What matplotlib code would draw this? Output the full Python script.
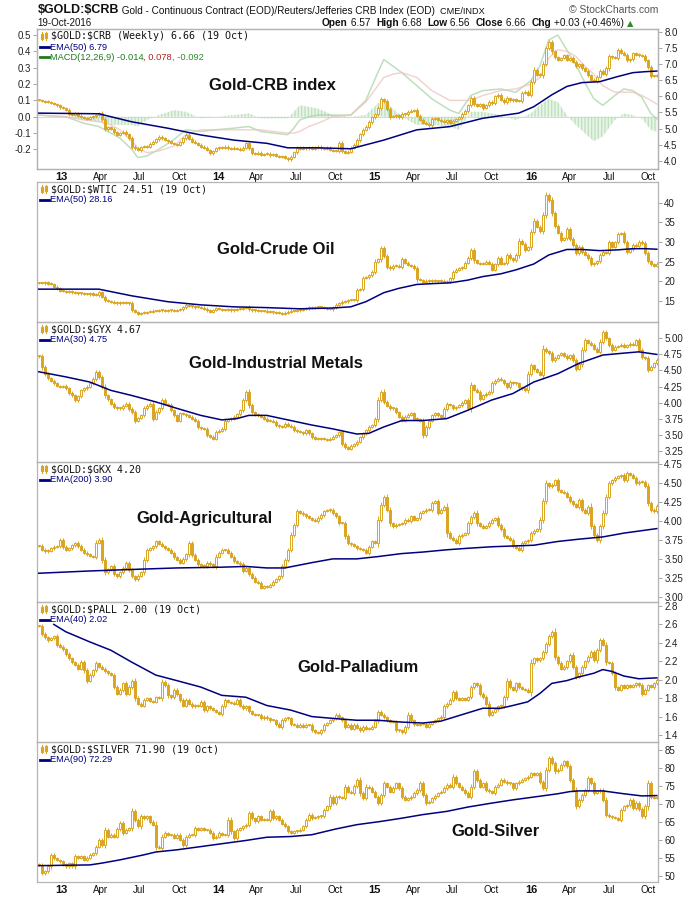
import numpy as np
import matplotlib
matplotlib.use('Agg')
import matplotlib.pyplot as plt
from matplotlib.patches import Rectangle
from matplotlib.lines import Line2D

# weekly closes, first week = 5-Nov-2012, last = 17-Oct-2016
crb_close = [
    5.89, 5.86, 5.84, 5.82, 5.79, 5.76, 5.72, 5.66, 5.64, 5.58,
    5.45, 5.43, 5.47, 5.40, 5.36, 5.33, 5.31, 5.35, 5.38, 5.42,
    5.48, 5.30, 4.98, 5.05, 5.00, 4.88, 4.80, 4.86, 4.90, 4.82,
    4.70, 4.44, 4.38, 4.33, 4.42, 4.45, 4.43, 4.52, 4.59, 4.66,
    4.75, 4.70, 4.64, 4.60, 4.55, 4.52, 4.50, 4.58, 4.70, 4.80,
    4.68, 4.59, 4.55, 4.50, 4.44, 4.40, 4.33, 4.23, 4.30, 4.38,
    4.42, 4.40, 4.44, 4.38, 4.36, 4.40, 4.37, 4.33, 4.40, 4.54,
    4.38, 4.23, 4.22, 4.25, 4.18, 4.20, 4.22, 4.17, 4.20, 4.15,
    4.12, 4.14, 4.08, 4.04, 4.12, 4.26, 4.40, 4.36, 4.40, 4.38,
    4.42, 4.36, 4.40, 4.44, 4.38, 4.36, 4.40, 4.33, 4.30, 4.30,
    4.56, 4.30, 4.25, 4.28, 4.40, 4.50, 4.64, 4.82, 4.97, 5.05,
    5.20, 5.35, 5.45, 5.65, 5.92, 5.85, 5.62, 5.37, 5.38, 5.42,
    5.35, 5.46, 5.44, 5.52, 5.56, 5.58, 5.40, 5.28, 5.18, 5.15,
    5.10, 5.30, 5.32, 5.28, 5.25, 5.20, 5.26, 5.18, 5.24, 5.30,
    5.35, 5.46, 5.55, 5.72, 5.96, 5.76, 5.70, 5.76, 5.64, 5.72,
    5.84, 5.78, 6.00, 6.05, 5.90, 5.82, 5.95, 5.88, 5.92, 5.86,
    5.85, 6.12, 6.15, 6.05, 6.46, 6.83, 6.68, 6.66, 7.02, 7.50,
    7.70, 7.40, 7.22, 7.15, 7.20, 7.28, 7.15, 7.20, 7.08, 6.94,
    7.00, 6.88, 6.80, 6.66, 6.52, 6.48, 6.62, 6.80, 6.70, 6.88,
    7.25, 7.22, 7.20, 7.45, 7.36, 7.30, 7.12, 7.16, 7.34, 7.30,
    7.28, 7.26, 7.12, 6.92, 6.64, 6.63, 6.66]
crb_ema_wk = [0, 20, 31, 43, 54, 65, 76, 83, 93, 104, 115, 126, 137, 148,
              160, 165, 171, 176, 181, 187, 193, 198, 202, 206]
crb_ema = [5.48, 5.46, 5.21, 5.01, 4.80, 4.64, 4.54, 4.40, 4.40, 4.37, 4.64,
           4.96, 5.06, 5.32, 5.48, 5.68, 6.05, 6.31, 6.43, 6.46, 6.62, 6.74,
           6.77, 6.79]

macd_wk = [0, 9, 15, 20, 24, 27, 31, 33, 36, 40, 45, 49, 54, 59, 65, 70, 74,
           78, 83, 85, 87, 90, 93, 98, 104, 109, 113, 115, 118, 121, 126, 131,
           137, 140, 144, 148, 154, 159, 164, 167, 170, 173, 176, 179, 182,
           185, 188, 192, 195, 198, 201, 204, 206]
macd_line = [0.01, 0.00, -0.04, -0.06, -0.10, -0.13, -0.20, -0.25, -0.24,
             -0.20, -0.14, -0.08, -0.09, -0.08, -0.07, -0.06, -0.09, -0.10,
             -0.11, -0.07, -0.02, 0.00, 0.01, 0.01, 0.01, 0.10, 0.27, 0.35,
             0.31, 0.27, 0.19, 0.11, 0.04, 0.02, 0.13, 0.16, 0.17, 0.15, 0.22,
             0.31, 0.47, 0.50, 0.41, 0.32, 0.21, 0.11, 0.07, 0.13, 0.17, 0.16,
             0.12, 0.02, -0.014]
macd_signal = [0.01, 0.00, -0.02, -0.03, -0.05, -0.08, -0.15, -0.19, -0.22,
               -0.21, -0.18, -0.11, -0.08, -0.08, -0.08, -0.08, -0.08, -0.09,
               -0.10, -0.10, -0.09, -0.06, -0.04, 0.00, 0.01, 0.09, 0.19,
               0.24, 0.26, 0.27, 0.24, 0.16, 0.10, 0.10, 0.10, 0.13, 0.16,
               0.17, 0.20, 0.24, 0.36, 0.41, 0.40, 0.37, 0.31, 0.26, 0.19,
               0.15, 0.15, 0.15, 0.13, 0.10, 0.078]

wtic_close = [
    19.6, 19.5, 19.7, 19.4, 19.3, 18.6, 18.2, 17.6, 17.5, 17.3,
    17.4, 17.2, 17.0, 16.9, 17.0, 16.8, 16.7, 16.9, 16.6, 16.5,
    17.2, 16.1, 15.2, 15.0, 14.8, 14.6, 14.4, 14.7, 14.6, 14.5,
    14.4, 12.7, 12.2, 11.7, 11.9, 12.0, 12.2, 12.3, 12.5, 12.4,
    12.7, 12.6, 12.5, 12.6, 12.7, 12.5, 12.7, 12.9, 13.4, 14.0,
    13.8, 13.6, 13.4, 13.5, 13.3, 13.0, 12.6, 12.3, 12.7, 13.1,
    12.9, 12.7, 12.7, 12.8, 12.6, 12.7, 12.9, 13.0, 13.2, 13.5,
    12.9, 12.6, 12.7, 12.5, 12.4, 12.5, 12.3, 12.2, 12.1, 12.0,
    11.9, 11.7, 12.0, 12.3, 12.5, 12.4, 12.6, 12.7, 12.9, 13.1,
    13.3, 13.2, 13.4, 13.5, 13.4, 13.2, 13.0, 12.9, 13.4, 14.0,
    14.4, 14.8, 14.9, 15.2, 15.2, 15.3, 17.8, 18.0, 20.8, 21.0,
    21.6, 22.4, 25.0, 25.6, 28.4, 26.4, 23.7, 23.3, 24.0, 24.0,
    23.7, 25.6, 24.7, 24.2, 24.0, 23.3, 20.5, 20.3, 19.9, 20.2,
    20.0, 20.3, 20.1, 20.0, 20.2, 19.8, 20.0, 20.8, 22.4, 23.0,
    23.3, 23.5, 24.7, 25.9, 28.0, 25.3, 24.7, 24.5, 24.5, 25.0,
    24.5, 23.0, 24.3, 25.9, 24.5, 24.7, 26.7, 25.9, 25.3, 26.7,
    30.3, 29.5, 28.0, 28.7, 32.6, 35.4, 33.9, 32.8, 36.9, 42.0,
    40.7, 37.3, 34.1, 32.4, 30.5, 31.0, 33.2, 30.7, 29.2, 27.1,
    28.8, 27.5, 26.7, 25.9, 24.3, 24.6, 25.1, 26.7, 27.5, 27.3,
    29.9, 28.8, 29.9, 32.0, 32.3, 30.0, 27.5, 28.2, 29.3, 29.1,
    30.1, 29.7, 27.3, 25.1, 24.3, 23.9, 24.5]
wtic_ema_wk = [0, 20, 31, 43, 54, 65, 76, 87, 98, 104, 109, 115, 120, 126,
               131, 137, 143, 148, 154, 159, 165, 170, 176, 181, 187, 193,
               198, 202, 206]
wtic_ema = [18.0, 18.0, 16.3, 14.8, 14.0, 13.5, 13.3, 13.0, 13.2, 13.5, 14.8,
            17.1, 18.2, 19.2, 19.4, 19.6, 20.3, 21.2, 21.9, 22.9, 24.4, 26.7,
            28.1, 28.1, 27.8, 28.0, 28.3, 28.3, 28.16]

gyx_close = [
    4.72, 4.55, 4.45, 4.38, 4.34, 4.30, 4.26, 4.24, 4.26, 4.22,
    4.15, 4.11, 4.04, 4.10, 4.19, 4.22, 4.25, 4.30, 4.37, 4.48,
    4.40, 4.25, 4.11, 4.05, 3.98, 3.93, 3.91, 3.91, 3.95, 3.98,
    3.90, 3.85, 3.72, 3.76, 3.80, 3.91, 3.95, 3.98, 3.75, 3.85,
    3.91, 4.04, 3.98, 3.96, 3.88, 3.80, 3.72, 3.83, 3.82, 3.80,
    3.78, 3.75, 3.72, 3.62, 3.60, 3.59, 3.49, 3.47, 3.44, 3.54,
    3.56, 3.59, 3.72, 3.74, 3.75, 3.78, 3.82, 3.88, 4.04, 4.17,
    3.96, 3.85, 3.82, 3.80, 3.78, 3.75, 3.72, 3.72, 3.70, 3.65,
    3.63, 3.62, 3.67, 3.64, 3.62, 3.57, 3.55, 3.54, 3.52, 3.57,
    3.52, 3.46, 3.44, 3.45, 3.44, 3.43, 3.42, 3.44, 3.47, 3.49,
    3.54, 3.36, 3.30, 3.28, 3.33, 3.35, 3.39, 3.46, 3.52, 3.57,
    3.62, 3.65, 3.75, 4.04, 4.17, 4.01, 3.95, 3.91, 3.91, 3.85,
    3.78, 3.72, 3.78, 3.81, 3.83, 3.75, 3.74, 3.72, 3.49, 3.62,
    3.72, 3.80, 3.83, 3.80, 3.78, 3.90, 3.98, 3.96, 3.91, 3.93,
    3.96, 4.00, 4.04, 3.91, 4.27, 4.20, 4.17, 4.06, 4.11, 4.14,
    4.17, 4.30, 4.34, 4.37, 4.35, 4.30, 4.24, 4.32, 4.30, 4.30,
    4.24, 4.22, 4.19, 4.45, 4.58, 4.52, 4.48, 4.43, 4.84, 4.80,
    4.77, 4.66, 4.70, 4.74, 4.77, 4.73, 4.69, 4.74, 4.66, 4.53,
    4.60, 4.82, 4.97, 4.93, 4.90, 4.84, 4.79, 4.95, 5.10, 5.00,
    4.90, 4.82, 4.87, 4.88, 4.90, 4.87, 4.89, 4.92, 4.90, 4.97,
    4.82, 4.71, 4.69, 4.51, 4.56, 4.61, 4.67]
gyx_ema_wk = [0, 9, 17, 24, 31, 39, 46, 54, 61, 66, 70, 76, 84, 91, 98, 106,
              110, 115, 121, 128, 136, 143, 151, 158, 165, 173, 180, 188, 195,
              200, 206]
gyx_ema = [4.48, 4.40, 4.32, 4.19, 4.11, 4.01, 3.91, 3.80, 3.73, 3.75, 3.80,
           3.80, 3.72, 3.65, 3.59, 3.51, 3.52, 3.62, 3.72, 3.72, 3.75, 3.88,
           4.04, 4.14, 4.32, 4.45, 4.61, 4.74, 4.77, 4.79, 4.75]

gkx_close = [
    3.67, 3.62, 3.60, 3.61, 3.64, 3.66, 3.67, 3.75, 3.66, 3.62,
    3.64, 3.68, 3.71, 3.67, 3.62, 3.58, 3.56, 3.54, 3.53, 3.71,
    3.75, 3.49, 3.32, 3.36, 3.40, 3.30, 3.27, 3.32, 3.38, 3.45,
    3.35, 3.27, 3.23, 3.28, 3.32, 3.49, 3.62, 3.64, 3.67, 3.73,
    3.70, 3.67, 3.64, 3.62, 3.58, 3.52, 3.49, 3.45, 3.50, 3.56,
    3.71, 3.55, 3.49, 3.43, 3.41, 3.40, 3.45, 3.43, 3.40, 3.53,
    3.58, 3.62, 3.62, 3.58, 3.53, 3.47, 3.45, 3.43, 3.34, 3.38,
    3.30, 3.25, 3.20, 3.18, 3.12, 3.14, 3.13, 3.16, 3.20, 3.23,
    3.27, 3.40, 3.49, 3.62, 3.82, 3.95, 4.13, 4.11, 4.09, 4.06,
    4.04, 4.02, 4.00, 4.04, 4.08, 4.13, 4.14, 4.15, 4.10, 4.06,
    3.97, 3.97, 3.80, 3.71, 3.69, 3.67, 3.64, 3.63, 3.62, 3.58,
    3.66, 3.73, 3.71, 4.02, 4.21, 4.32, 4.15, 3.97, 3.93, 3.95,
    3.96, 3.97, 4.02, 4.00, 4.06, 4.02, 4.04, 4.11, 4.13, 4.15,
    4.15, 4.24, 4.26, 4.11, 4.15, 4.19, 3.84, 3.78, 3.75, 3.71,
    3.80, 3.82, 3.84, 3.97, 4.05, 4.11, 3.97, 3.94, 3.91, 3.93,
    3.98, 4.02, 4.04, 3.95, 3.89, 3.80, 3.78, 3.75, 3.67, 3.65,
    3.62, 3.71, 3.73, 3.75, 3.84, 3.87, 3.89, 4.02, 4.26, 4.50,
    4.46, 4.48, 4.54, 4.41, 4.39, 4.37, 4.32, 4.26, 4.22, 4.19,
    4.28, 4.15, 4.11, 4.19, 3.93, 3.82, 3.75, 3.93, 4.11, 4.32,
    4.50, 4.54, 4.57, 4.59, 4.61, 4.54, 4.63, 4.61, 4.57, 4.50,
    4.52, 4.52, 4.46, 4.24, 4.15, 4.13, 4.20]
gkx_ema_wk = [0, 17, 31, 46, 61, 69, 76, 82, 91, 98, 106, 113, 121, 128, 136,
              143, 151, 158, 165, 173, 180, 188, 195, 206]
gkx_ema = [3.31, 3.34, 3.36, 3.38, 3.39, 3.40, 3.38, 3.38, 3.45, 3.50, 3.50,
           3.53, 3.57, 3.59, 3.62, 3.64, 3.66, 3.67, 3.68, 3.73, 3.76, 3.79,
           3.84, 3.90]

pall_close = [
    2.58, 2.50, 2.46, 2.43, 2.45, 2.47, 2.38, 2.36, 2.33, 2.28,
    2.23, 2.19, 2.16, 2.12, 2.19, 2.10, 1.99, 2.05, 2.10, 2.18,
    2.14, 2.12, 2.09, 2.07, 2.05, 1.92, 1.85, 1.89, 1.96, 1.85,
    1.92, 1.99, 1.80, 1.74, 1.72, 1.78, 1.80, 1.77, 1.76, 1.81,
    1.80, 1.98, 1.94, 1.83, 1.81, 1.89, 1.84, 1.78, 1.72, 1.78,
    1.74, 1.71, 1.72, 1.72, 1.76, 1.67, 1.71, 1.69, 1.67, 1.65,
    1.63, 1.71, 1.78, 1.76, 1.75, 1.74, 1.78, 1.72, 1.69, 1.71,
    1.66, 1.63, 1.62, 1.62, 1.58, 1.60, 1.58, 1.56, 1.56, 1.52,
    1.49, 1.56, 1.58, 1.58, 1.52, 1.51, 1.49, 1.51, 1.49, 1.51,
    1.51, 1.45, 1.43, 1.42, 1.45, 1.51, 1.53, 1.56, 1.58, 1.62,
    1.59, 1.56, 1.49, 1.51, 1.47, 1.51, 1.48, 1.45, 1.49, 1.47,
    1.47, 1.49, 1.55, 1.65, 1.62, 1.59, 1.56, 1.54, 1.54, 1.45,
    1.45, 1.43, 1.49, 1.62, 1.56, 1.52, 1.51, 1.52, 1.52, 1.49,
    1.52, 1.54, 1.56, 1.58, 1.60, 1.71, 1.74, 1.78, 1.87, 1.80,
    1.78, 1.80, 1.78, 1.81, 1.92, 1.96, 1.94, 1.85, 1.81, 1.74,
    1.62, 1.65, 1.68, 1.71, 1.72, 1.81, 1.99, 1.92, 1.89, 1.96,
    1.92, 1.90, 1.89, 1.87, 2.18, 2.23, 2.21, 2.23, 2.30, 2.39,
    2.47, 2.52, 2.25, 2.18, 2.12, 2.14, 2.20, 2.27, 2.14, 2.03,
    2.07, 2.14, 2.20, 2.25, 2.30, 2.21, 2.32, 2.43, 2.38, 2.19,
    2.18, 2.07, 1.92, 1.89, 1.94, 1.91, 1.94, 1.92, 1.94, 1.96,
    1.94, 1.85, 1.89, 1.94, 1.92, 1.96, 2.00]
pall_ema_wk = [5, 9, 17, 24, 31, 39, 46, 54, 61, 69, 76, 84, 91, 98, 106, 113,
               121, 128, 134, 139, 143, 148, 154, 158, 163, 167, 171, 176, 180,
               185, 188, 191, 195, 200, 206]
pall_ema = [2.60, 2.52, 2.41, 2.32, 2.19, 2.05, 1.99, 1.92, 1.83, 1.81, 1.72,
            1.67, 1.60, 1.58, 1.56, 1.56, 1.54, 1.53, 1.55, 1.60, 1.64, 1.69,
            1.69, 1.72, 1.76, 1.85, 1.96, 1.99, 2.03, 2.07, 2.11, 2.09, 2.04,
            2.01, 2.02]

silver_close = [
    53.1, 50.7, 51.2, 52.6, 55.8, 54.9, 54.4, 54.0, 53.2, 52.6,
    53.5, 52.6, 55.4, 54.9, 55.4, 54.4, 55.0, 55.8, 56.3, 58.1,
    60.0, 58.6, 62.8, 60.9, 61.4, 60.9, 63.0, 64.6, 61.9, 62.8,
    63.2, 67.9, 65.6, 63.7, 66.5, 66.0, 66.5, 65.0, 64.2, 58.1,
    57.7, 60.9, 61.9, 61.4, 61.4, 60.5, 61.4, 60.0, 58.6, 60.9,
    61.4, 61.4, 63.2, 62.8, 63.2, 62.8, 62.8, 61.9, 60.5, 60.9,
    61.9, 61.4, 61.4, 65.6, 62.3, 60.5, 62.8, 63.2, 63.7, 64.2,
    67.4, 66.0, 65.1, 66.5, 65.6, 65.6, 65.6, 67.9, 66.0, 66.5,
    65.6, 64.5, 63.7, 62.3, 61.9, 62.3, 62.5, 62.8, 63.7, 65.6,
    67.0, 66.0, 66.2, 66.5, 66.5, 68.3, 69.3, 72.0, 70.2, 72.0,
    71.8, 71.6, 74.8, 73.4, 73.0, 75.0, 76.7, 73.0, 71.6, 74.8,
    74.4, 73.4, 72.0, 70.2, 72.5, 75.7, 74.8, 73.4, 74.5, 75.7,
    74.4, 72.0, 71.1, 71.5, 72.0, 73.0, 73.9, 75.7, 72.5, 70.2,
    70.6, 71.6, 72.3, 73.0, 73.4, 74.4, 75.3, 74.8, 77.6, 75.7,
    74.8, 73.9, 73.0, 72.0, 74.8, 79.0, 76.7, 74.8, 75.7, 73.9,
    73.5, 73.0, 74.8, 75.3, 76.7, 76.2, 75.7, 75.7, 74.4, 75.7,
    76.2, 76.7, 77.1, 77.6, 78.5, 78.1, 78.5, 76.2, 74.4, 79.4,
    82.7, 81.3, 79.0, 79.5, 80.8, 81.8, 80.4, 76.7, 73.9, 69.3,
    71.0, 72.5, 73.9, 77.1, 75.7, 73.0, 73.5, 73.9, 71.1, 67.0,
    66.5, 66.2, 66.0, 65.6, 68.3, 69.3, 69.7, 71.1, 68.8, 70.2,
    68.5, 66.5, 69.3, 75.7, 72.0, 71.6, 71.9]
silver_ema_wk = [0, 17, 21, 27, 35, 39, 46, 54, 61, 69, 76, 84, 91, 99, 106,
                 114, 121, 128, 136, 143, 151, 158, 166, 173, 177, 180, 188,
                 195, 201, 206]
silver_ema = [52.8, 53.0, 53.5, 54.4, 55.8, 56.6, 57.2, 58.1, 58.9, 59.8, 60.7,
              60.9, 61.4, 63.0, 64.2, 65.1, 66.0, 67.0, 67.9, 69.1, 70.2, 71.1,
              72.0, 72.8, 73.4, 73.6, 73.6, 72.8, 72.2, 72.3]

GOLD = '#DAA520'
NAVY = '#000080'
EDGE = '#b4b4b4'
W, H = 700, 900
SANS = ['Liberation Sans', 'DejaVu Sans']

fig = plt.figure(figsize=(7, 9), dpi=100)
fig.patch.set_facecolor('white')


def fx(x):
    return x / W


def fy(y):
    return 1 - y / H


def esc(s):
    return s.replace('$', r'\$')


def panel(top, bot):
    return fig.add_axes([fx(37.3), fy(bot), 620.7 / W, (bot - top) / H])


def candles(ax, closes, lim):
    c = np.asarray(closes, float)
    o = np.concatenate([[c[0]], c[:-1]])
    x = np.arange(len(c))
    px = (lim[1] - lim[0]) / 140.0
    lo = np.minimum(o, c)
    hi = np.maximum(o, c)
    body = np.maximum(hi - lo, px)
    tail = 1.2 * px + 0.1 * (hi - lo)
    ax.vlines(x, lo - tail, hi + tail, color=GOLD, lw=0.7, zorder=2)
    up = c >= o
    ax.bar(x[up], body[up], bottom=lo[up], width=0.85, facecolor='white',
           edgecolor=GOLD, lw=0.7, zorder=3)
    ax.bar(x[~up], body[~up], bottom=lo[~up], width=0.85, color=GOLD,
           edgecolor=GOLD, lw=0.7, zorder=3)


def style(ax, lim, ticks, fmt):
    ax.set_xlim(-0.5, 206.4)
    ax.set_ylim(*lim)
    ax.yaxis.tick_right()
    ax.set_yticks(ticks)
    ax.set_yticklabels([fmt % t for t in ticks], fontsize=7, color='#222222',
                       family=SANS)
    ax.tick_params(axis='y', length=3, width=0.6, color='#999999', pad=1.5)
    ax.tick_params(axis='x', length=0, labelbottom=False)
    for s in ax.spines.values():
        s.set_color(EDGE)
        s.set_linewidth(0.9)
    ax.set_facecolor('none')


def legend(top, title, ema_text):
    yc = top + 7
    for k in range(2):
        xi = 41 + 4 * k
        fig.add_artist(Line2D([fx(xi + 1), fx(xi + 1)], [fy(yc + 4), fy(yc - 4)],
                              color=GOLD, lw=0.8))
        fig.add_artist(Rectangle((fx(xi), fy(yc + 2.5 - k)), fx(2), 5 / H,
                                 facecolor=GOLD if k else 'white',
                                 edgecolor=GOLD, lw=0.8))
    fig.text(fx(51), fy(yc), esc(title), family='DejaVu Sans Mono', size=7.2,
             va='center', color='#111111')
    fig.add_artist(Line2D([fx(40), fx(48.5)], [fy(top + 18)] * 2, color=NAVY, lw=2))
    fig.text(fx(49.5), fy(top + 18), ema_text, family=SANS, size=6.7,
             va='center', color=NAVY)


def tag(x, y, s):
    fig.text(fx(x), fy(y), s, ha='center', va='center', weight='bold', size=12,
             family=['Liberation Sans Narrow', 'Liberation Sans'], color='#111111')


# date ticks
t0 = np.datetime64('2012-11-05')
qs = np.arange(np.datetime64('2013-01'), np.datetime64('2016-11'),
               np.timedelta64(3, 'M'))
tick_x = ((qs.astype('datetime64[D]') - t0) / np.timedelta64(1, 'D')) / 7.0 - 0.5
names = {3: 'Apr', 6: 'Jul', 9: 'Oct'}
tick_lbl = []
for q in qs.astype(int):
    m = q % 12
    tick_lbl.append('%02d' % ((q // 12 + 1970) % 100) if m == 0 else names[m])


def dates(ax):
    ax.set_xticks(tick_x)
    ax.set_xticklabels(tick_lbl, fontsize=7, family=SANS, color='#111111')
    ax.tick_params(axis='x', length=0, pad=2.5, labelbottom=True)
    for lb in ax.get_xticklabels():
        if lb.get_text().isdigit():
            lb.set_fontweight('bold')
            lb.set_fontsize(8)
    ax.spines['bottom'].set_linestyle((0, (1, 1)))


tops = [29, 182, 322, 462, 602, 742]
bots = [169, 322, 462, 602, 742, 882]

# panel 1: Gold/CRB with MACD
axm = panel(tops[0], bots[0])
ax1 = axm.twinx()
mw = np.array(macd_wk)
ml = np.array(macd_line)
ms = np.array(macd_signal)
axm.fill_between(mw, 0, ml - ms, facecolor='#e9f5e9', edgecolor='#bfe0bf',
                 hatch='|||||', lw=0, zorder=1)
axm.axhline(0, color='#bfe0bf', lw=0.6, zorder=1)
axm.plot(mw, ml, color='#a9d4a9', lw=1.1, alpha=0.75, zorder=2)
axm.plot(mw, ms, color='#f0c0c0', lw=1.0, alpha=0.75, zorder=2)
axm.set_xlim(-0.5, 206.4)
axm.set_ylim(-0.32, 0.537)
mt = [-0.2, -0.1, 0.0, 0.1, 0.2, 0.3, 0.4, 0.5]
axm.set_yticks(mt)
axm.set_yticklabels(['%.1f' % t for t in mt], fontsize=7, family=SANS,
                    color='#222222')
axm.tick_params(axis='y', length=3, width=0.6, color='#999999', pad=1.5)
for s in axm.spines.values():
    s.set_color(EDGE)
    s.set_linewidth(0.9)
lim1 = (3.74, 8.10)
candles(ax1, crb_close, lim1)
ax1.plot(crb_ema_wk, crb_ema, color=NAVY, lw=1.1, zorder=4)
style(ax1, lim1, [4.0, 4.5, 5.0, 5.5, 6.0, 6.5, 7.0, 7.5, 8.0], '%.1f')
dates(axm)
ax1.spines['bottom'].set_linestyle((0, (1, 1)))
legend(tops[0], '$GOLD:$CRB (Weekly) 6.66 (19 Oct)', 'EMA(50) 6.79')
yl = tops[0] + 28
fig.add_artist(Line2D([fx(40), fx(48.5)], [fy(yl)] * 2, color='#1f7a1f', lw=2))
m1 = fig.text(fx(49.5), fy(yl), 'MACD(12,26,9) -0.014', family=SANS, size=6.7,
              va='center', color='#1f7a1f')
m2 = fig.add_artist(plt.Annotation(', 0.078', xy=(1, 0), xycoords=m1,
                                   va='bottom', ha='left', family=SANS,
                                   size=6.7, color='#b22222',
                                   annotation_clip=False))
fig.add_artist(plt.Annotation(', -0.092', xy=(1, 0), xycoords=m2, va='bottom',
                              ha='left', family=SANS, size=6.7,
                              color='#2e8b2e', annotation_clip=False))
tag(272, 86, 'Gold-CRB index')

# panel 2: Gold/Crude
ax2 = panel(tops[1], bots[1])
lim2 = (9.64, 45.27)
candles(ax2, wtic_close, lim2)
ax2.plot(wtic_ema_wk, wtic_ema, color=NAVY, lw=1.1, zorder=4)
style(ax2, lim2, [15, 20, 25, 30, 35, 40], '%d')
ax2.spines['top'].set_linestyle((0, (1, 1)))
legend(tops[1], '$GOLD:$WTIC 24.51 (19 Oct)', 'EMA(50) 28.16')
tag(276, 250, 'Gold-Crude Oil')

# panel 3: Gold/Industrial metals
ax3 = panel(tops[2], bots[2])
lim3 = (3.074, 5.255)
candles(ax3, gyx_close, lim3)
ax3.plot(gyx_ema_wk, gyx_ema, color=NAVY, lw=1.1, zorder=4)
style(ax3, lim3, [3.25, 3.5, 3.75, 4.0, 4.25, 4.5, 4.75, 5.0], '%.2f')
legend(tops[2], '$GOLD:$GYX 4.67', 'EMA(30) 4.75')
tag(276, 364, 'Gold-Industrial Metals')

# panel 4: Gold/Agricultural
ax4 = panel(tops[3], bots[3])
lim4 = (2.93, 4.78)
candles(ax4, gkx_close, lim4)
ax4.plot(gkx_ema_wk, gkx_ema, color=NAVY, lw=1.1, zorder=4)
style(ax4, lim4, [3.0, 3.25, 3.5, 3.75, 4.0, 4.25, 4.5, 4.75], '%.2f')
legend(tops[3], '$GOLD:$GKX 4.20', 'EMA(200) 3.90')
tag(204, 518, 'Gold-Agricultural')

# panel 5: Gold/Palladium
ax5 = panel(tops[4], bots[4])
lim5 = (1.324, 2.843)
candles(ax5, pall_close, lim5)
ax5.plot(pall_ema_wk, pall_ema, color=NAVY, lw=1.1, zorder=4)
style(ax5, lim5, [1.4, 1.6, 1.8, 2.0, 2.2, 2.4, 2.6, 2.8], '%.1f')
legend(tops[4], '$GOLD:$PALL 2.00 (19 Oct)', 'EMA(40) 2.02')
tag(358, 667, 'Gold-Palladium')

# panel 6: Gold/Silver
ax6 = panel(tops[5], bots[5])
lim6 = (48.25, 87.2)
candles(ax6, silver_close, lim6)
ax6.plot(silver_ema_wk, silver_ema, color=NAVY, lw=1.1, zorder=4)
style(ax6, lim6, [50, 55, 60, 65, 70, 75, 80, 85], '%d')
dates(ax6)
legend(tops[5], '$GOLD:$SILVER 71.90 (19 Oct)', 'EMA(90) 72.29')
tag(495, 831, 'Gold-Silver')

# header
h1 = fig.text(fx(37.3), fy(13.3), esc('$GOLD:$CRB'), weight='bold', size=9,
              family=SANS, va='baseline', color='#111111')
h2 = fig.add_artist(plt.Annotation(
    ' Gold - Continuous Contract (EOD)/Reuters/Jefferies CRB Index (EOD)',
    xy=(1, 0), xycoords=h1, va='bottom', ha='left', size=7.2, family=SANS,
    color='#111111', annotation_clip=False))
fig.add_artist(plt.Annotation('  CME/INDX', xy=(1, 0), xycoords=h2,
                              va='bottom', ha='left', size=6.6, family=SANS,
                              color='#111111', annotation_clip=False))
fig.text(fx(658), fy(13.3), '\u00a9 StockCharts.com', ha='right', va='baseline',
         size=7.5, family=SANS, color='#555555')
fig.text(fx(37.3), fy(26), '19-Oct-2016', size=7, family=SANS, va='baseline',
         color='#111111')

parts = [(' 6.57  ', 'normal'), ('High', 'bold'),
         (' 6.68  ', 'normal'), ('Low', 'bold'), (' 6.56  ', 'normal'),
         ('Close', 'bold'), (' 6.66  ', 'normal'), ('Chg', 'bold'),
         (' +0.03 (+0.46%) ', 'normal')]
prev = fig.text(fx(322), fy(26), 'Open', weight='bold', size=7.3,
                family=SANS, va='baseline', color='#111111')
for s, wgt in parts:
    prev = fig.add_artist(plt.Annotation(s, xy=(1, 0), xycoords=prev,
                                         va='bottom', ha='left', size=7.3,
                                         weight=wgt, family=SANS,
                                         color='#111111',
                                         annotation_clip=False))
fig.add_artist(plt.Annotation('\u25b2', xy=(1, 0), xycoords=prev, va='bottom',
                              ha='left', size=6, family='DejaVu Sans',
                              color='#2e8b2e', annotation_clip=False))

fig.savefig('out.png', dpi=100, facecolor='white')
